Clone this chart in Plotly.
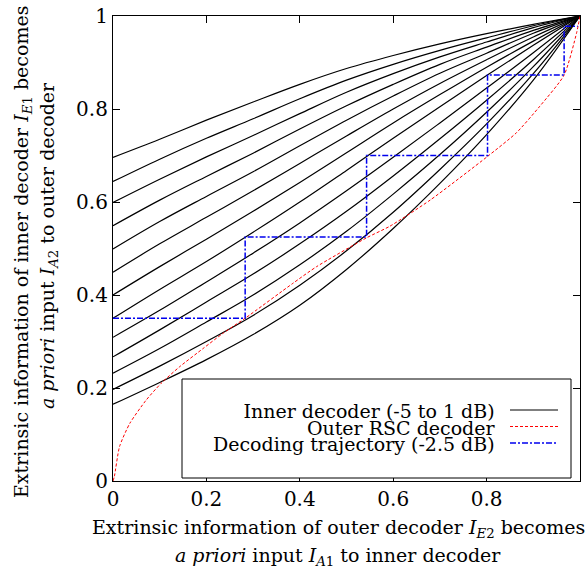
import plotly.graph_objects as go

# ---- data ----
x_grid = [0.0, 0.1, 0.2, 0.3, 0.4, 0.5, 0.6, 0.7, 0.8, 0.9, 1.0]
snr_db = [-5.0, -4.5, -4.0, -3.5, -3.0, -2.5, -2.0, -1.5, -1.0, -0.5, 0.0, 0.5, 1.0]
inner_curves = [
    [0.165, 0.212, 0.261, 0.315, 0.378, 0.455, 0.543, 0.640, 0.745, 0.862, 1.0],
    [0.197, 0.247, 0.300, 0.356, 0.421, 0.495, 0.578, 0.670, 0.768, 0.876, 1.0],
    [0.232, 0.285, 0.342, 0.400, 0.465, 0.537, 0.617, 0.702, 0.793, 0.891, 1.0],
    [0.267, 0.325, 0.385, 0.445, 0.510, 0.580, 0.656, 0.736, 0.819, 0.906, 1.0],
    [0.309, 0.367, 0.428, 0.490, 0.555, 0.624, 0.696, 0.770, 0.845, 0.921, 1.0],
    [0.350, 0.412, 0.472, 0.535, 0.600, 0.668, 0.737, 0.805, 0.872, 0.937, 1.0],
    [0.400, 0.461, 0.520, 0.580, 0.642, 0.706, 0.770, 0.831, 0.890, 0.946, 1.0],
    [0.449, 0.510, 0.567, 0.624, 0.683, 0.742, 0.800, 0.855, 0.906, 0.955, 1.0],
    [0.499, 0.558, 0.612, 0.665, 0.721, 0.776, 0.828, 0.877, 0.920, 0.963, 1.0],
    [0.549, 0.604, 0.655, 0.705, 0.757, 0.807, 0.853, 0.896, 0.933, 0.969, 1.0],
    [0.599, 0.649, 0.697, 0.743, 0.790, 0.836, 0.876, 0.912, 0.944, 0.975, 1.0],
    [0.644, 0.692, 0.737, 0.779, 0.822, 0.862, 0.896, 0.926, 0.953, 0.979, 1.0],
    [0.696, 0.735, 0.776, 0.815, 0.853, 0.887, 0.915, 0.940, 0.962, 0.982, 1.0],
]
outer_x = [0.0, 0.003, 0.014, 0.036, 0.071, 0.103, 0.143, 0.193, 0.236, 0.283, 0.385,
           0.436, 0.543, 0.593, 0.679, 0.802, 0.864, 0.914, 0.966, 0.993, 1.0]
outer_y = [0.0, 0.010, 0.074, 0.124, 0.174, 0.210, 0.246, 0.285, 0.318, 0.350, 0.425,
           0.461, 0.523, 0.548, 0.604, 0.698, 0.749, 0.806, 0.873, 0.965, 1.0]
traj_x = [0.0, 0.283, 0.283, 0.543, 0.543, 0.802, 0.802, 0.966, 0.966, 0.995]
traj_y = [0.350, 0.350, 0.525, 0.525, 0.700, 0.700, 0.873, 0.873, 0.978, 0.978]
tick_vals = [0, 0.2, 0.4, 0.6, 0.8, 1]
tick_text = ["0", "0.2", "0.4", "0.6", "0.8", "1"]
legend_labels = ["Inner decoder (-5 to 1 dB)", "Outer RSC decoder", "Decoding trajectory (-2.5 dB)"]

FONT = "DejaVu Serif"
fig = go.Figure()
for snr, ys in zip(snr_db, inner_curves):
    fig.add_trace(go.Scatter(x=x_grid, y=ys, mode="lines",
                             line=dict(color="black", width=1.2, shape="spline", smoothing=1.0),
                             name=f"{snr} dB", showlegend=False, hoverinfo="skip"))
fig.add_trace(go.Scatter(x=outer_x, y=outer_y, mode="lines",
                         line=dict(color="#ff0000", width=1, dash="3px,2px", shape="spline", smoothing=0.6),
                         showlegend=False))
fig.add_trace(go.Scatter(x=traj_x, y=traj_y, mode="lines",
                         line=dict(color="#0000ee", width=1.5, dash="6px,2px,2px,2px"),
                         showlegend=False))

L, R, T, B = 113, 6, 16, 92
W, H = 586, 573
pw, ph = W - L - R, H - T - B

def px(xp):
    return (xp - L) / pw

def py(yp):
    return (H - B - yp) / ph

shapes = [dict(type="rect", xref="paper", yref="paper", x0=px(182), x1=px(571), y0=py(478), y1=py(379),
               line=dict(color="black", width=1), fillcolor="white", layer="above")]
sample_styles = [dict(color="black", width=1.2), dict(color="#ff0000", width=1, dash="3px,2px"),
                 dict(color="#0000ee", width=1.5, dash="6px,2px,2px,2px")]
for i, st in enumerate(sample_styles):
    yy = py(410 + 16.5 * i)
    shapes.append(dict(type="line", xref="paper", yref="paper", x0=px(510), x1=px(558), y0=yy, y1=yy,
                       line=st, layer="above"))

legend_text = "<br>".join(f'<span style="font-size:19px">{lab}</span>' for lab in legend_labels)
annotations = [dict(text=legend_text, xref="paper", yref="paper", x=px(498), y=py(427),
                    xanchor="right", yanchor="middle", align="right", showarrow=False,
                    font=dict(family=FONT, size=12.7, color="black"))]

tfont = dict(family=FONT, size=19, color="black")
annotations += [
    dict(text="Extrinsic information of outer decoder <i>I</i><sub><i>E</i>2</sub> becomes", xref="paper", yref="paper",
         x=px(338), y=py(528), xanchor="center", yanchor="middle", showarrow=False, font=tfont),
    dict(text="<i>a priori</i> input <i>I</i><sub><i>A</i>1</sub> to inner decoder", xref="paper", yref="paper",
         x=px(338), y=py(556), xanchor="center", yanchor="middle", showarrow=False, font=tfont),
    dict(text="Extrinsic information of inner decoder <i>I</i><sub><i>E</i>1</sub> becomes", xref="paper", yref="paper",
         x=px(22), y=py(252), xanchor="center", yanchor="middle", showarrow=False, font=tfont, textangle=-90),
    dict(text="<i>a priori</i> input <i>I</i><sub><i>A</i>2</sub> to outer decoder", xref="paper", yref="paper",
         x=px(48), y=py(246), xanchor="center", yanchor="middle", showarrow=False, font=tfont, textangle=-90),
]

axis_common = dict(range=[0, 1], tickvals=tick_vals, ticktext=tick_text, ticks="inside", ticklen=7,
                   tickcolor="black", tickwidth=1, showline=True, linecolor="black", linewidth=1.2,
                   mirror="ticks", showgrid=False, zeroline=False,
                   tickfont=dict(family=FONT, size=20, color="black"))
fig.update_layout(
    width=W, height=H, margin=dict(l=L, r=R, t=T, b=B, autoexpand=False),
    paper_bgcolor="white", plot_bgcolor="white",
    xaxis=dict(**axis_common), yaxis=dict(**axis_common),
    shapes=shapes, annotations=annotations, showlegend=False,
)
fig.write_html("out.html")
